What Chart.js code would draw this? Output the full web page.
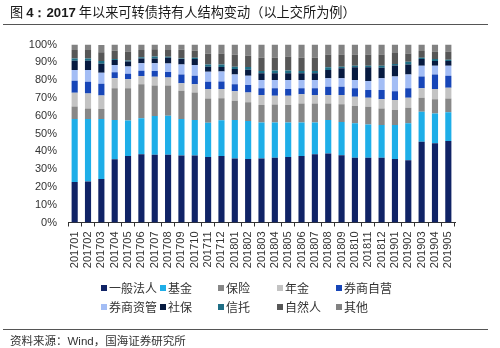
<!DOCTYPE html>
<html>
<head>
<meta charset="utf-8">
<script src="https://cdn.jsdelivr.net/npm/chart.js@4/dist/chart.umd.min.js"></script>
<style>
  html, body { margin:0; padding:0; background:#fff; }
  #wrap { position:relative; width:500px; height:348px; overflow:hidden; font-family:"Noto Sans CJK SC", "Liberation Sans", sans-serif; }
  #c { position:absolute; left:0; top:0; }
  .title { position:absolute; left:10px; top:4px; font-size:13.2px; color:#1a1a1a; white-space:nowrap; line-height:16px; }
  .title b { font-family:"Liberation Sans", Arial, sans-serif; font-weight:bold; }
  .hline { position:absolute; left:3px; width:485px; height:1px; background:#555; }
  .src { position:absolute; left:10px; top:332px; font-size:11.5px; color:#333; white-space:nowrap; line-height:16px; }
  .src .lat { font-family:"Liberation Sans", Arial, sans-serif; }
  .lg { position:absolute; font-size:12px; color:#333; white-space:nowrap; line-height:14px; }
  .lg i { position:absolute; width:6px; height:6px; left:0; top:4px; }
  .lg span { position:absolute; left:8px; top:0; }
</style>
</head>
<body>
<div id="wrap">
  <canvas id="c" width="500" height="348"></canvas>
  <div class="title">图 <b>4：2017</b> 年以来可转债持有人结构变动（以上交所为例）</div>
  <div class="hline" style="top:24px"></div>
  <div id="legend"></div>
  <div class="hline" style="top:329px"></div>
  <div class="src">资料来源：<span class="lat">Wind</span>，国海证券研究所</div>
</div>
<script>
const categories = ['201701','201702','201703','201704','201705','201706','201707','201708','201709','201710','201711','201712',
  '201801','201802','201803','201804','201805','201806','201807','201808','201809','201810','201811','201812',
  '201901','201902','201903','201904','201905'];
const yTicks = [0,10,20,30,40,50,60,70,80,90,100];

const corp    = [22.7,23.1,24.4,35.5,37.3,38.3,38.0,38.0,37.6,37.6,36.8,37.3,36.0,35.7,36.0,36.4,36.8,37.4,38.3,38.7,37.8,36.4,36.4,36.4,35.7,35.0,45.4,44.5,45.8];
const fund    = [35.4,35.0,33.7,22.1,20.0,20.2,21.8,22.0,20.6,20.0,19.3,20.2,21.6,21.3,20.2,19.8,19.4,18.8,17.9,18.9,18.7,19.3,18.7,18.4,19.1,20.7,16.8,16.8,16.1];
const insur   = [7.0,6.0,5.7,17.8,18.1,19.1,17.1,16.9,15.8,15.4,13.6,12.3,10.8,10.5,9.8,10.1,9.8,10.7,10.7,9.3,10.0,9.7,9.9,9.3,8.4,8.8,7.9,7.9,7.8];
const pension = [7.8,8.4,7.5,5.6,5.1,4.7,5.0,4.6,4.2,4.6,5.3,5.2,5.4,5.6,5.6,4.9,5.2,5.1,4.7,4.7,5.1,5.2,5.1,5.2,5.6,5.6,5.3,5.8,6.0];
const brokerProp = [6.8,6.6,6.6,3.4,3.0,3.0,3.2,3.1,5.0,4.9,4.1,4.2,3.8,4.1,3.8,4.2,3.8,3.4,3.8,4.7,4.7,4.8,4.3,5.1,5.0,5.3,6.6,8.2,6.8];
const brokerAM   = [6.0,6.6,6.2,4.1,4.1,4.1,4.3,4.7,5.6,6.0,5.6,5.6,5.6,5.3,4.7,4.7,5.1,4.7,4.7,4.7,4.7,4.7,5.1,6.6,8.2,7.8,6.0,4.9,5.5];
const social  = [5.2,5.2,5.1,2.8,2.8,2.8,2.8,3.2,3.0,3.3,2.8,2.6,3.0,3.3,3.7,3.7,3.7,3.7,3.7,4.7,5.6,7.1,7.7,6.0,6.2,5.6,3.9,2.6,2.7];
const trust   = [1.3,1.3,1.5,0.6,0.6,0.6,1.0,0.6,0.4,0.8,1.3,1.4,1.3,1.5,1.3,1.6,1.6,1.3,1.3,1.5,0.9,0.9,0.8,1.0,0.8,1.5,0.7,1.1,0.8];
const natural = [4.7,4.7,5.0,4.6,5.0,4.1,4.1,3.8,4.8,3.9,6.0,6.2,6.8,6.4,7.5,7.2,7.8,7.5,7.5,7.2,6.9,6.3,6.4,6.4,6.2,4.7,3.8,4.2,4.5];
const others  = [3.1,3.1,4.0,3.5,4.0,3.1,2.7,3.0,3.0,3.5,5.2,5.0,5.7,6.3,7.4,7.4,6.8,7.4,7.4,5.6,5.6,5.6,5.6,5.6,4.8,5.0,3.6,4.0,4.0];

const seriesNames = ['一般法人','基金','保险','年金','券商自营','券商资管','社保','信托','自然人','其他'];
const seriesData = [corp, fund, insur, pension, brokerProp, brokerAM, social, trust, natural, others];
const seriesColors = ['#102366','#1eaee8','#878787','#c3c3c3','#1746b8','#a3bdf5','#071a40','#1f6e85','#575757','#828282'];

const datasets = seriesNames.map((n, i) => ({
  label: n,
  data: seriesData[i],
  backgroundColor: seriesColors[i],
  borderWidth: 0,
  barPercentage: 0.46,
  categoryPercentage: 1.0
}));

new Chart(document.getElementById('c'), {
  type: 'bar',
  data: { labels: categories, datasets },
  options: {
    responsive: false,
    animation: false,
    layout: { padding: { left: 0, right: 45, top: 44.5, bottom: 0 } },
    plugins: { legend: { display: false }, tooltip: { enabled: false }, title: { display: false } },
    scales: {
      x: {
        stacked: true,
        grid: { display: true, drawOnChartArea: false, drawTicks: true, tickLength: 4, color: '#333', offset: true },
        border: { display: true, color: '#333', width: 1 },
        ticks: { autoSkip: false, maxRotation: 90, minRotation: 90, padding: 5, color: '#333',
                 font: { family: 'Liberation Sans', size: 11 } },
        afterFit: (s) => { s.height = 125.5; }
      },
      y: {
        stacked: true,
        min: 0, max: 100,
        afterBuildTicks: (s) => { s.ticks = yTicks.map(v => ({ value: v })); },
        grid: { display: false, drawTicks: false },
        border: { display: false },
        ticks: { padding: 11, color: '#333', font: { family: 'Liberation Sans', size: 11 },
                 callback: (v) => v + '%' },
        afterFit: (s) => { s.width = 68; }
      }
    }
  }
});

// legend (HTML, grid layout like the reference)
const lgCols = [101, 160, 218, 277, 336];
const lgRows = [281, 300];
const lg = document.getElementById('legend');
seriesNames.forEach((n, i) => {
  const d = document.createElement('div');
  d.className = 'lg';
  d.style.left = lgCols[i % 5] + 'px';
  d.style.top = lgRows[Math.floor(i / 5)] + 'px';
  d.innerHTML = '<i style="background:' + seriesColors[i] + '"></i><span>' + n + '</span>';
  lg.appendChild(d);
});
</script>
</body>
</html>
